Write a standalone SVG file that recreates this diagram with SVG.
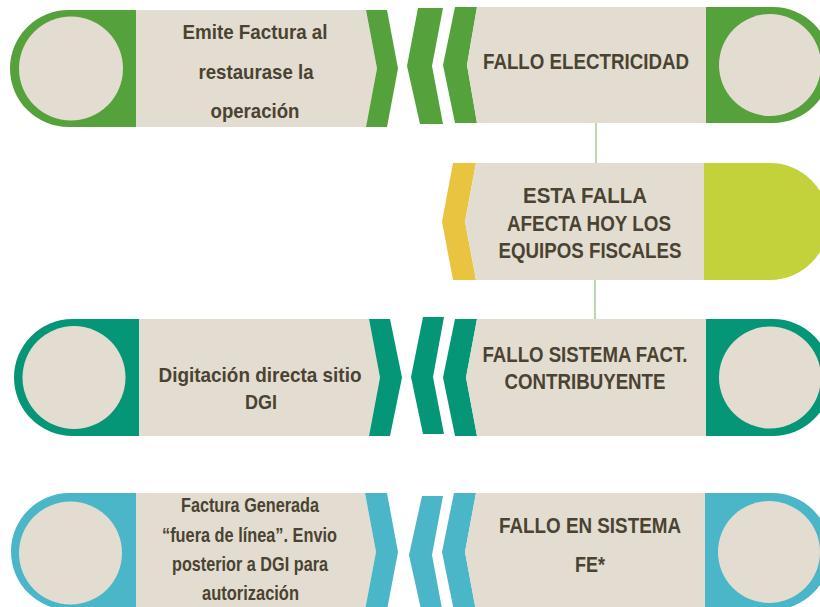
<svg xmlns="http://www.w3.org/2000/svg" width="820" height="607" viewBox="0 0 820 607">
<style>
.bg{fill:#E3DDD1}
.g{fill:#55A13C}.t{fill:#049677}.b{fill:#4BB6C7}.y{fill:#E8C440}.yg{fill:#C3D13B}
text{font-family:"Liberation Sans",Arial,sans-serif;font-weight:bold;fill:#4B4332;text-anchor:middle}
.h{font-size:22px}.s{font-size:20.5px}
.con{stroke:#86C277;stroke-width:1.2;fill:none}
</style>
<rect width="820" height="607" fill="#FFFFFF"/>
<g id="connectors">
<line class="con" x1="596" y1="123" x2="596" y2="163"/>
<line class="con" x1="595" y1="280" x2="595" y2="319"/>
</g>
<g id="emite-factura">
<path class="g" d="M136,10 H68.5 A58.5,58.5 0 0 0 68.5,127 H136 Z"/>
<circle class="bg" cx="71" cy="68.5" r="52"/>
<polygon class="bg" points="136,10 366,10 377,68.5 366,127 136,127"/>
<polygon class="g" points="366,10 387,10 398,68.5 387,127 366,127 377,68.5"/>
<text class="s" x="255" y="39" textLength="145" lengthAdjust="spacingAndGlyphs">Emite Factura al</text>
<text class="s" x="256" y="79" textLength="115" lengthAdjust="spacingAndGlyphs">restaurase la</text>
<text class="s" x="255" y="118" textLength="89" lengthAdjust="spacingAndGlyphs">operación</text>
</g>
<g id="fallo-electricidad">
<polygon class="g" points="418,8 443,8 432,66 443,124 420,124 407,66"/>
<polygon class="g" points="455,7 477,7 467,65 477,123 455,123 443,65"/>
<polygon class="bg" points="477,7 706,7 706,123 477,123 467,65"/>
<path class="g" d="M706,7 H773 A58,58 0 0 1 773,123 H706 Z"/>
<circle class="bg" cx="770" cy="65" r="51"/>
<text class="h" x="586" y="69" textLength="206" lengthAdjust="spacingAndGlyphs">FALLO ELECTRICIDAD</text>
</g>
<g id="esta-falla">
<polygon class="y" points="453,163 476,163 465,221.5 476,280 453,280 442,221.5"/>
<polygon class="bg" points="476,163 704,163 704,280 476,280 465,221.5"/>
<path class="yg" d="M704,163 H770 A58.5,58.5 0 0 1 770,280 H704 Z"/>
<text class="h" x="585" y="203" textLength="124" lengthAdjust="spacingAndGlyphs">ESTA FALLA</text>
<text class="h" x="589" y="231" textLength="164" lengthAdjust="spacingAndGlyphs">AFECTA HOY LOS</text>
<text class="h" x="590" y="258" textLength="183" lengthAdjust="spacingAndGlyphs">EQUIPOS FISCALES</text>
</g>
<g id="digitacion-directa">
<path class="t" d="M139,319 H72.5 A58.5,58.5 0 0 0 72.5,436 H139 Z"/>
<circle class="bg" cx="74" cy="377.5" r="51.5"/>
<polygon class="bg" points="139,319 369,319 380,377.5 369,436 139,436"/>
<polygon class="t" points="369,319 390,319 402,377.5 390,436 369,436 380,377.5"/>
<text class="s" x="260" y="382" textLength="203" lengthAdjust="spacingAndGlyphs">Digitación directa sitio</text>
<text class="s" x="261" y="409" textLength="32" lengthAdjust="spacingAndGlyphs">DGI</text>
</g>
<g id="fallo-sistema-fact">
<polygon class="t" points="423,317 444,317 433,377 444,434 423,434 411,377"/>
<polygon class="t" points="455,319 477,319 466,377.5 477,436 455,436 443,377.5"/>
<polygon class="bg" points="477,319 706,319 706,436 477,436 466,377.5"/>
<path class="t" d="M706,319 H773 A58.5,58.5 0 0 1 773,436 H706 Z"/>
<circle class="bg" cx="770" cy="377.5" r="51"/>
<text class="h" x="585" y="362" textLength="205" lengthAdjust="spacingAndGlyphs">FALLO SISTEMA FACT.</text>
<text class="h" x="585" y="389" textLength="161" lengthAdjust="spacingAndGlyphs">CONTRIBUYENTE</text>
</g>
<g id="factura-generada">
<path class="b" d="M136,493 H69.5 A58.5,58.5 0 0 0 69.5,610 H136 Z"/>
<circle class="bg" cx="70.5" cy="553" r="51.5"/>
<polygon class="bg" points="136,493 365,493 376,552 365,610 136,610"/>
<polygon class="b" points="365,493 387,493 398,552 387,610 365,610 376,552"/>
<text class="s" x="250" y="512" textLength="138" lengthAdjust="spacingAndGlyphs">Factura Generada</text>
<text class="s" x="249.5" y="542" textLength="175" lengthAdjust="spacingAndGlyphs">“fuera de línea”. Envio</text>
<text class="s" x="250" y="571" textLength="156" lengthAdjust="spacingAndGlyphs">posterior a DGI para</text>
<text class="s" x="250.5" y="600" textLength="97" lengthAdjust="spacingAndGlyphs">autorización</text>
</g>
<g id="fallo-en-sistema-fe">
<polygon class="b" points="422,496 443,496 432,555 443,614 422,614 409,555"/>
<polygon class="b" points="454,493 476,493 465,552 476,611 454,611 442,552"/>
<polygon class="bg" points="476,493 705,493 705,611 476,611 465,552"/>
<path class="b" d="M705,493 H772 A58.5,58.5 0 0 1 772,610 H705 Z"/>
<circle class="bg" cx="769" cy="552" r="51"/>
<text class="h" x="590" y="533" textLength="182" lengthAdjust="spacingAndGlyphs">FALLO EN SISTEMA</text>
<text class="h" x="590" y="572" textLength="30" lengthAdjust="spacingAndGlyphs">FE*</text>
</g>
</svg>
